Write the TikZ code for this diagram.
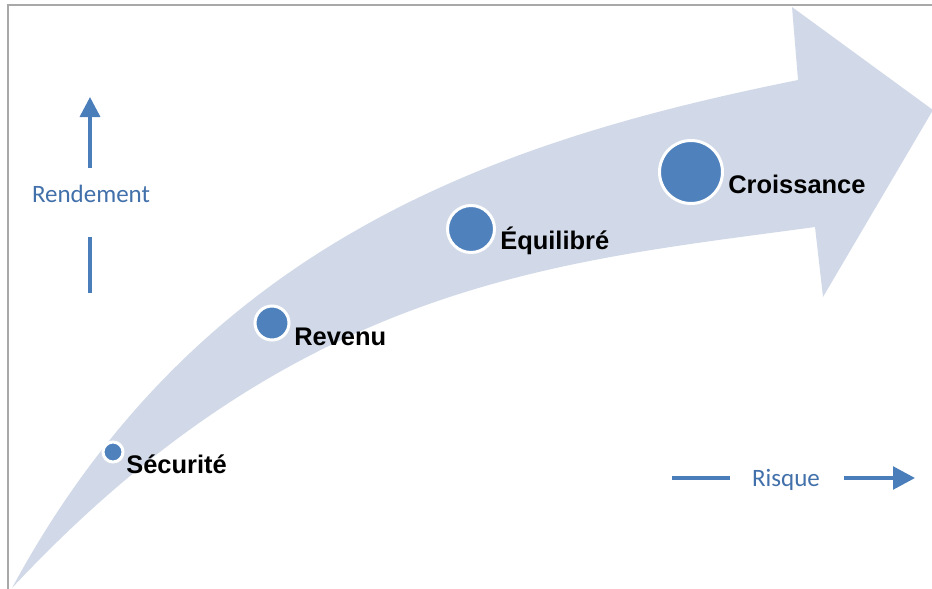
\documentclass[tikz,border=0pt]{standalone}
\usepackage{fontspec}
\setmainfont{Liberation Sans}
\newfontfamily\calfont{Carlito}
\usetikzlibrary{arrows.meta}
\definecolor{bandc}{HTML}{D1D9E8}
\definecolor{dotc}{HTML}{4F81BD}
\definecolor{axisc}{HTML}{4A7EBB}
\definecolor{axtxt}{HTML}{4270AA}
\definecolor{framec}{HTML}{A8A8A8}
\tikzset{
  dot/.style={circle, fill=dotc, draw=white, line width=2.25pt, inner sep=0pt},
  lbl/.style={font=\fontsize{19.1pt}{22pt}\selectfont\bfseries, text=black, inner sep=0pt, anchor=base west},
  axlbl/.style={font=\calfont\fontsize{18.75pt}{22pt}\selectfont, text=axtxt, inner sep=0pt, anchor=base},
  axline/.style={draw=axisc, line width=2.6pt},
}
\begin{document}
\begin{tikzpicture}[x=0.75pt, y=-0.75pt]
\useasboundingbox (0,0) rectangle (932,589);
% frame
\draw[framec, line width=1.5pt] (8,589) -- (8,5) -- (932,5);
% curved band arrow
\fill[bandc] (12,588) .. controls (200,240) and (500,140) .. (798,80)
  -- (792,7) -- (933,110) -- (823,297) -- (815,227)
  .. controls (560,262) and (300,280) .. (12,588) -- cycle;
% dots
\node[dot, minimum size=15pt] (dsec) at (113,452) {};
\node[dot, minimum size=25.5pt] (drev) at (272,323) {};
\node[dot, minimum size=35.25pt] (dequ) at (471,229) {};
\node[dot, minimum size=47.25pt] (dcro) at (691,172) {};
% labels
\node[lbl] (tsec) at (126,473) {Sécurité};
\node[lbl] (trev) at (294,345) {Revenu};
\node[lbl] (tequ) at (500,249) {Équilibré};
\node[lbl] (tcro) at (728,193) {Croissance};
% axes
\node[axlbl] (trend) at (91,202) {Rendement};
\node[axlbl] (trisk) at (786,486) {Risque};
\coordinate (v1) at (90,293);
\coordinate (v2) at (90,237);
\coordinate (v3) at (90,168);
\coordinate (v4) at (90,97);
\draw[axline] (v1) -- (v2);
\draw[axline, -{Triangle[length=15pt,width=15pt]}] (v3) -- (v4);
\coordinate (h1) at (672,478);
\coordinate (h2) at (730,478);
\coordinate (h3) at (844,478);
\coordinate (h4) at (915,478);
\draw[axline] (h1) -- (h2);
\draw[axline, -{Triangle[length=16.5pt,width=17pt]}] (h3) -- (h4);
\end{tikzpicture}
\end{document}
